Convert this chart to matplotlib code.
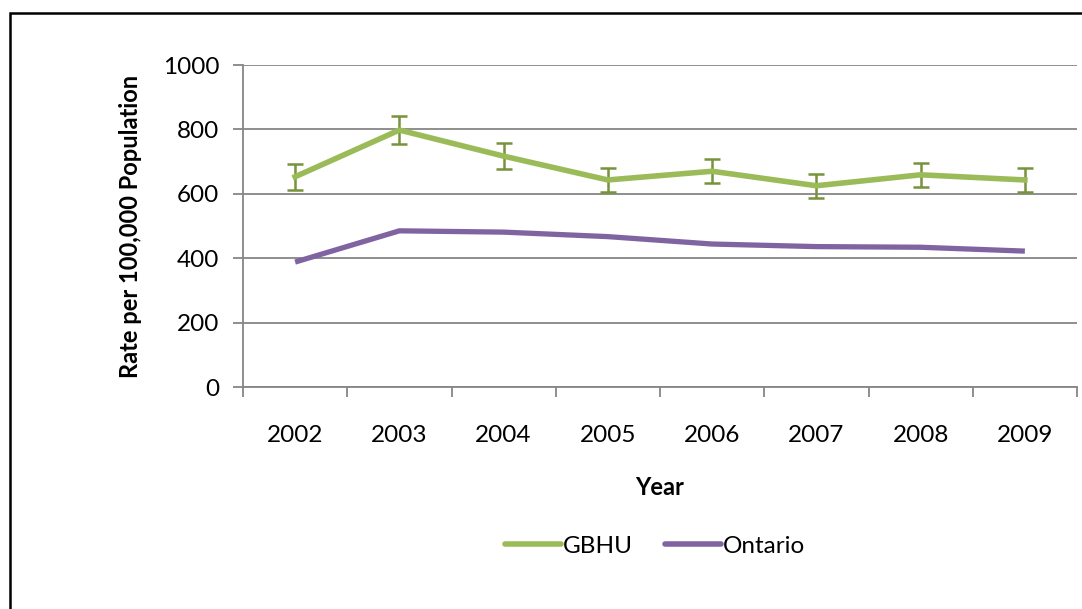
import matplotlib
matplotlib.use("Agg")
import matplotlib.pyplot as plt
from matplotlib.patches import Rectangle
from matplotlib.lines import Line2D

years = ["2002", "2003", "2004", "2005", "2006", "2007", "2008", "2009"]
gbhu = [653, 798, 717, 643, 670, 625, 659, 643]
gbhu_err = [40, 44, 40, 37, 38, 38, 38, 37]
ontario = [388, 485, 481, 467, 444, 436, 434, 422]

plt.rcParams['font.family'] = ['Lato', 'DejaVu Sans']

fig = plt.figure(figsize=(10.82, 6.09), dpi=100)
ax = fig.add_axes([243/1082, 1 - 387/609, (1077-243)/1082, (387-65)/609])

x = list(range(len(years)))
ax.errorbar(x, gbhu, yerr=gbhu_err, color='#9BBB59', lw=4, ecolor='#77933C',
            elinewidth=1.8, capsize=6, capthick=1.8, label='GBHU', zorder=3)
ax.plot(x, ontario, color='#8064A2', lw=3.8, label='Ontario', zorder=3,
        solid_capstyle='butt')

ax.set_xlim(-0.5, len(years) - 0.5)
ax.set_ylim(0, 1000)
ax.set_yticks(range(0, 1001, 200))
ax.yaxis.grid(True, color='#868686', lw=1.3)
ax.set_axisbelow(True)
ax.set_xticks([i - 0.5 for i in range(len(years) + 1)])
ax.set_xticklabels([])
ax.set_xticks(x, minor=True)
ax.set_xticklabels(years, minor=True)
ax.tick_params(axis='x', which='major', length=7, width=1.3, color='#868686', direction='out')
ax.tick_params(axis='x', which='minor', length=0, pad=27, labelsize=17.5)
ax.tick_params(axis='y', length=7, width=1.3, color='#868686', labelsize=17.5, pad=10)
for s in ['top', 'right']:
    ax.spines[s].set_visible(False)
for s in ['left', 'bottom']:
    ax.spines[s].set_color('#868686')
    ax.spines[s].set_linewidth(1.3)

ax.set_ylabel('Rate per 100,000 Population', fontsize=17, fontweight='bold', labelpad=15)
ax.set_xlabel('Year', fontsize=17, fontweight='bold', labelpad=22)

h = [Line2D([], [], color='#9BBB59', lw=4, solid_capstyle='round'),
     Line2D([], [], color='#8064A2', lw=4, solid_capstyle='round')]
fig.legend(h, ['GBHU', 'Ontario'], loc='center', bbox_to_anchor=(655/1082, 1 - 546/609),
           ncol=2, frameon=False, fontsize=17.5, handlelength=2.3, handletextpad=0.1,
           columnspacing=1.3)

fig.patches.append(Rectangle((10/1082, -0.1), 1.2, 1 - 13/609 + 0.1, transform=fig.transFigure,
                             fill=False, edgecolor='black', lw=1.8))

fig.savefig('out.png', dpi=100)
